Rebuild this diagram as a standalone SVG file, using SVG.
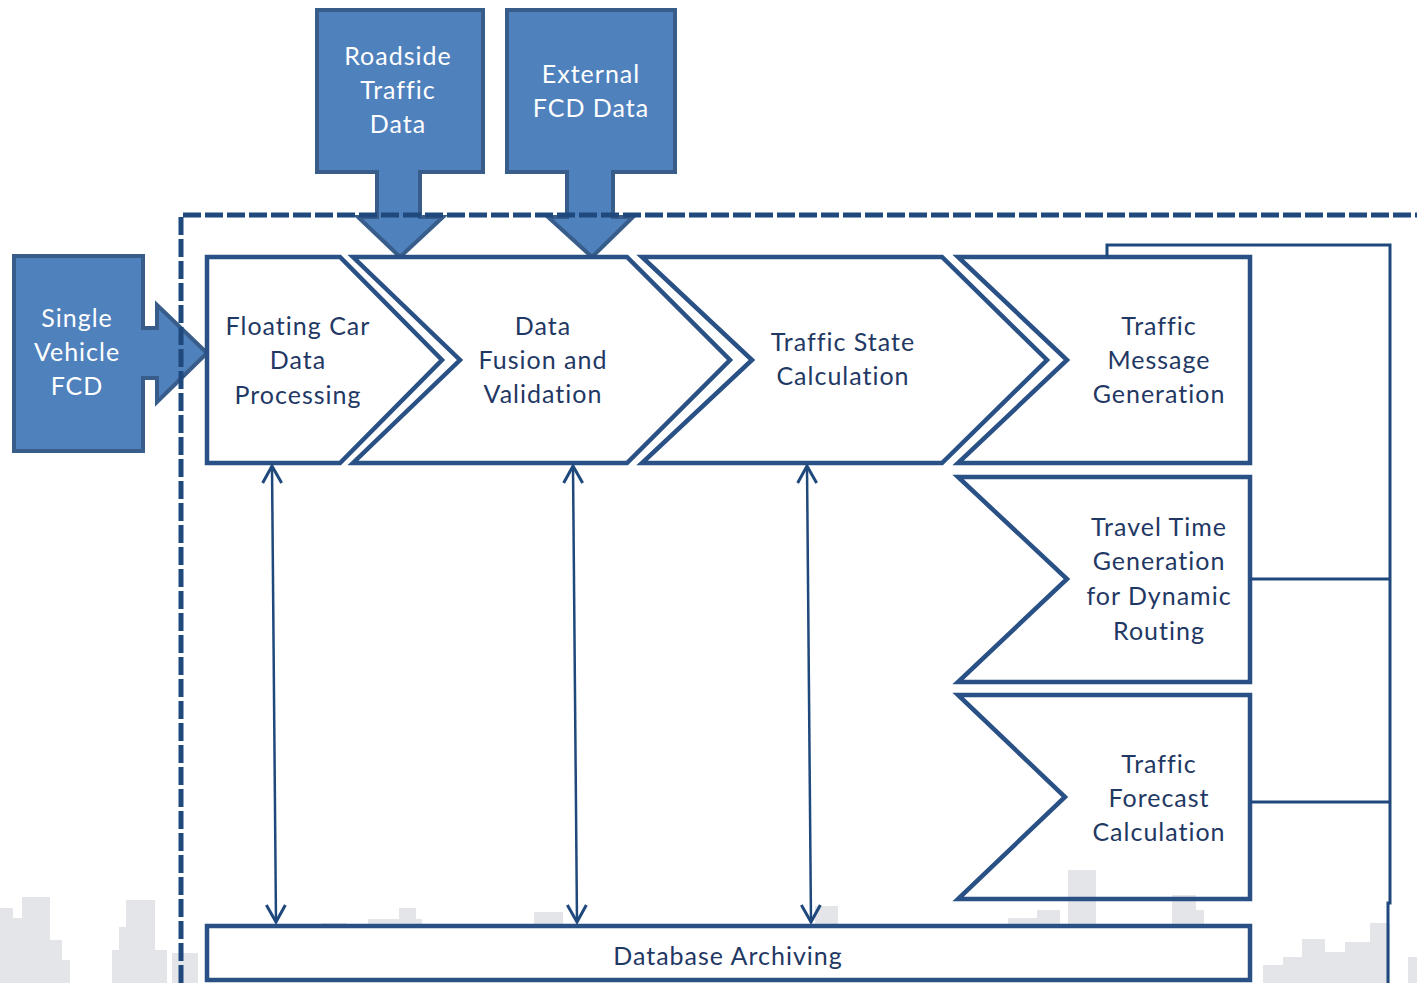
<svg xmlns="http://www.w3.org/2000/svg" width="1417" height="983" viewBox="0 0 1417 983">
<defs>
<style>
.bg{fill:#E3E5E8}
.src{fill:#4F81BD;stroke:#385D8A;stroke-width:4;stroke-linejoin:miter}
.stage{fill:#FFFFFF;stroke:#2A5185;stroke-width:4.5;stroke-linejoin:miter}
.wt{font-family:Lato,"Open Sans",sans-serif;font-size:25px;fill:#FFFFFF;text-anchor:middle;letter-spacing:1px}
.dt{font-family:Lato,"Open Sans",sans-serif;font-size:25px;fill:#1F3864;text-anchor:middle;letter-spacing:1px}
.dash{fill:none;stroke:#1F497D;stroke-width:5;stroke-dasharray:18 4}
.ln{fill:none;stroke:#1F497D;stroke-width:3}
.arr{fill:none;stroke:#1F497D;stroke-width:2.5;marker-start:url(#v);marker-end:url(#v)}
</style>
<marker id="v" markerUnits="userSpaceOnUse" viewBox="-20 -12 22 24" refX="0" refY="0" markerWidth="22" markerHeight="24" orient="auto-start-reverse">
<path d="M-17,-9.5 L0,0 L-17,9.5" fill="none" stroke="#1F497D" stroke-width="3"/>
</marker>
</defs>
<rect width="1417" height="983" fill="#FFFFFF"/>
<g id="skyline">
<rect class="bg" x="0" y="908" width="13" height="75"/>
<rect class="bg" x="13" y="918" width="9" height="65"/>
<rect class="bg" x="22" y="897" width="28" height="86"/>
<rect class="bg" x="50" y="940" width="12" height="43"/>
<rect class="bg" x="62" y="960" width="8" height="23"/>
<rect class="bg" x="126" y="900" width="29" height="83"/>
<rect class="bg" x="119" y="927" width="36" height="56"/>
<rect class="bg" x="112" y="950" width="55" height="33"/>
<rect class="bg" x="172" y="953" width="26" height="30"/>
<rect class="bg" x="321" y="923" width="26" height="10"/>
<rect class="bg" x="368" y="919" width="54" height="14"/>
<rect class="bg" x="399" y="908" width="17" height="25"/>
<rect class="bg" x="534" y="912" width="29" height="21"/>
<rect class="bg" x="815" y="906" width="23" height="27"/>
<rect class="bg" x="1008" y="918" width="30" height="15"/>
<rect class="bg" x="1037" y="910" width="23" height="23"/>
<rect class="bg" x="1068" y="870" width="28" height="63"/>
<rect class="bg" x="1172" y="895" width="24" height="38"/>
<rect class="bg" x="1196" y="910" width="8" height="23"/>
<rect class="bg" x="1263" y="965" width="20" height="18"/>
<rect class="bg" x="1283" y="957" width="19" height="26"/>
<rect class="bg" x="1302" y="939" width="23" height="44"/>
<rect class="bg" x="1325" y="952" width="20" height="31"/>
<rect class="bg" x="1345" y="942" width="25" height="41"/>
<rect class="bg" x="1370" y="923" width="20" height="60"/>
<rect class="bg" x="1408" y="957" width="9" height="26"/>
</g>
<g id="single-vehicle-fcd">
<path class="src" d="M14,256 H143 V328 H157 V305 L207,353 L157,402 V378 H143 V451 H14 Z"/>
<text class="wt" x="77" y="327">Single</text>
<text class="wt" x="77" y="361">Vehicle</text>
<text class="wt" x="77" y="395">FCD</text>
</g>
<g id="roadside-traffic-data">
<path class="src" d="M317,10 H483 V172 H420 V217 H443 L400,257 L358,217 H377 V172 H317 Z"/>
<text class="wt" x="398" y="65">Roadside</text>
<text class="wt" x="398" y="99">Traffic</text>
<text class="wt" x="398" y="133">Data</text>
</g>
<g id="external-fcd-data">
<path class="src" d="M507,10 H675 V172 H613 V217 H633 L592,257 L548,217 H567 V172 H507 Z"/>
<text class="wt" x="591" y="83">External</text>
<text class="wt" x="591" y="117">FCD Data</text>
</g>
<path id="boundary" class="dash" d="M181,983 V215 H1417"/>
<g id="floating-car-data-processing">
<path class="stage" d="M207,257 H340 L442,360 L340,463 H207 Z"/>
<text class="dt" x="298" y="335">Floating Car</text>
<text class="dt" x="298" y="369">Data</text>
<text class="dt" x="298" y="404">Processing</text>
</g>
<g id="data-fusion-and-validation">
<path class="stage" d="M353,257 H627 L730,360 L627,463 H353 L460,360 Z"/>
<text class="dt" x="543" y="335">Data</text>
<text class="dt" x="543" y="369">Fusion and</text>
<text class="dt" x="543" y="403">Validation</text>
</g>
<g id="traffic-state-calculation">
<path class="stage" d="M642,257 H942 L1047,360 L942,463 H642 L752,360 Z"/>
<text class="dt" x="843" y="351">Traffic State</text>
<text class="dt" x="843" y="385">Calculation</text>
</g>
<g id="traffic-message-generation">
<path class="stage" d="M958,257 H1250 V463 H958 L1067,360 Z"/>
<text class="dt" x="1159" y="335">Traffic</text>
<text class="dt" x="1159" y="369">Message</text>
<text class="dt" x="1159" y="403">Generation</text>
</g>
<g id="travel-time-generation">
<path class="stage" d="M958,477 H1250 V682 H958 L1067,579 Z"/>
<text class="dt" x="1159" y="536">Travel Time</text>
<text class="dt" x="1159" y="570">Generation</text>
<text class="dt" x="1159" y="605">for Dynamic</text>
<text class="dt" x="1159" y="640">Routing</text>
</g>
<g id="traffic-forecast-calculation">
<path class="stage" style="fill:none" d="M958,695 H1250 V899 H958 L1065,797 Z"/>
<text class="dt" x="1159" y="773">Traffic</text>
<text class="dt" x="1159" y="807">Forecast</text>
<text class="dt" x="1159" y="841">Calculation</text>
</g>
<g id="database-archiving">
<rect class="stage" x="207" y="926" width="1043" height="54"/>
<text class="dt" x="728" y="965">Database Archiving</text>
</g>
<g id="connectors">
<path class="ln" d="M1107,257 V245 H1390 V903 H1388 V983"/>
<path class="ln" d="M1250,579 H1390"/>
<path class="ln" d="M1250,802 H1390"/>
<path class="arr" d="M272,466 L276,922"/>
<path class="arr" d="M573,466 L577,922"/>
<path class="arr" d="M807,466 L811,922"/>
</g>
</svg>
